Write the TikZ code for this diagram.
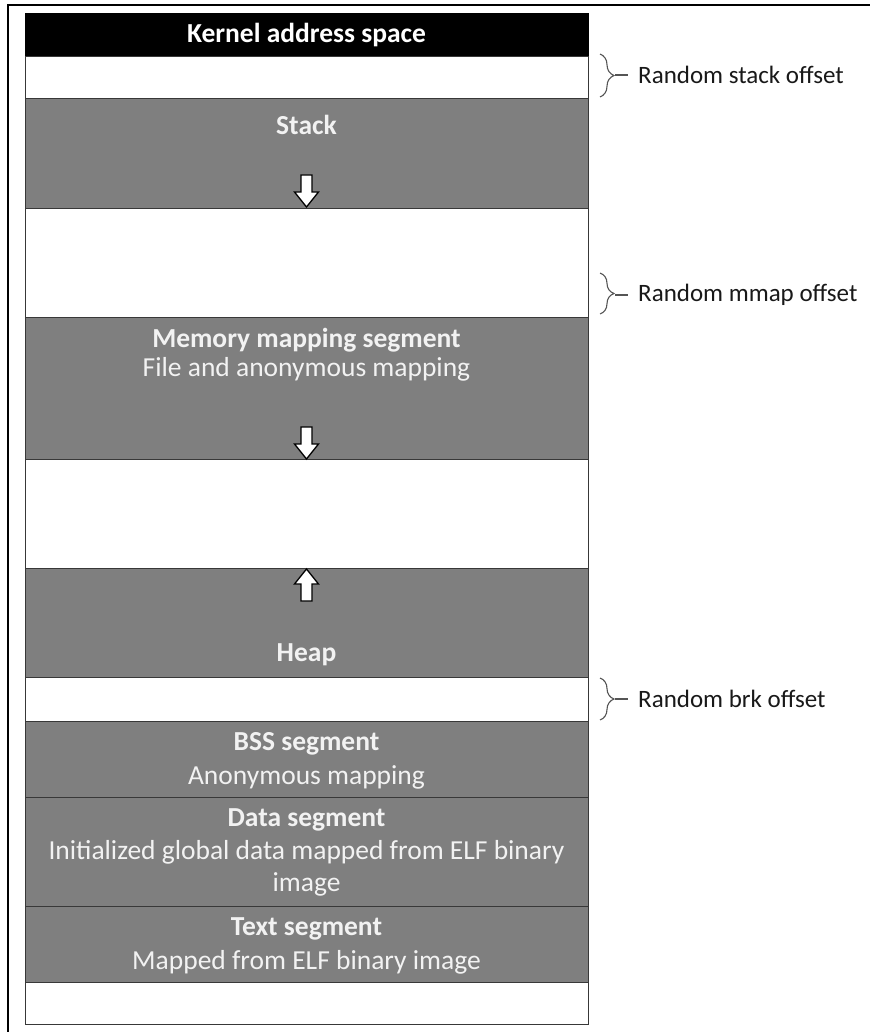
\documentclass[tikz,border=0pt]{standalone}
\usepackage{fontspec}
\setmainfont{Carlito}
\usetikzlibrary{decorations.pathreplacing}
\definecolor{seggray}{HTML}{7F7F7F}
\definecolor{edgegray}{HTML}{383838}
\definecolor{bracegray}{HTML}{555555}
\begin{document}
\begin{tikzpicture}[x=1pt,y=-1pt,
  box/.style={draw=edgegray, line width=1.3pt, minimum width=563pt, anchor=north west, inner sep=0pt},
  seg/.style={box, fill=seggray},
  gap/.style={box, fill=white},
  kern/.style={box, fill=black, draw=black},
  lbl/.style={text=white!95!black, font=\fontsize{27.5}{32}\selectfont, inner sep=0pt},
  blbl/.style={lbl, font=\fontsize{27.5}{32}\selectfont\bfseries},
  rlbl/.style={text=black!90, font=\fontsize{25}{30}\selectfont, inner sep=0pt, anchor=west},
  bracestyle/.style={draw=bracegray, line width=1.1pt, decorate, decoration={brace, amplitude=14pt}},
  tiestyle/.style={draw=bracegray, line width=1.1pt},
  downarr/.pic={\filldraw[fill=white, draw=black, line width=1.3pt]
     (-5.5,-16) -- (5.5,-16) -- (5.5,1) -- (12,1) -- (0,16) -- (-12,1) -- (-5.5,1) -- cycle;},
  uparr/.pic={\filldraw[fill=white, draw=black, line width=1.3pt]
     (-5.5,16) -- (5.5,16) -- (5.5,-1) -- (12,-1) -- (0,-16) -- (-12,-1) -- (-5.5,-1) -- cycle;}
]
\useasboundingbox (0,0) rectangle (869,1032);
\fill[white] (0,0) rectangle (869,1032);
% outer frame
\draw[line width=2.6pt, line cap=rect] (8,1032) -- (8,5) -- (869,5);

% segments
\node[kern, minimum height=43pt]  (kernel) at (25,13)  {};
\node[gap,  minimum height=42pt]  (gapa)   at (25,56)  {};
\node[seg,  minimum height=110pt] (stack)  at (25,98)  {};
\node[gap,  minimum height=109pt] (gapb)   at (25,208) {};
\node[seg,  minimum height=142pt] (mmap)   at (25,317) {};
\node[gap,  minimum height=109pt] (gapc)   at (25,459) {};
\node[seg,  minimum height=109pt] (heap)   at (25,568) {};
\node[gap,  minimum height=44pt]  (gapd)   at (25,677) {};
\node[seg,  minimum height=76pt]  (bss)    at (25,721) {};
\node[seg,  minimum height=109pt] (data)   at (25,797) {};
\node[seg,  minimum height=76pt]  (text)   at (25,906) {};
\node[gap,  minimum height=42pt]  (gape)   at (25,982) {};

% labels
\node[blbl, text=white] (kernell) at (306.5,35) {Kernel address space};
\node[blbl] (stackl) at (306.5,125) {Stack};
\node[blbl] (mmapl)  at (306.5,340) {Memory mapping segment};
\node[lbl]  (mmaps)  at (306.5,369) {File and anonymous mapping};
\node[blbl] (heapl)  at (306.5,655) {Heap};
\node[blbl] (bssl)   at (306.5,744) {BSS segment};
\node[lbl]  (bsss)   at (306.5,777) {Anonymous mapping};
\node[blbl] (datal)  at (306.5,820) {Data segment};
\node[lbl]  (datas)  at (306.5,852) {Initialized global data mapped from ELF binary};
\node[lbl]  (datat)  at (306.5,884) {image};
\node[blbl] (textl)  at (306.5,929) {Text segment};
\node[lbl]  (texts)  at (306.5,962) {Mapped from ELF binary image};

% growth arrows
\pic at (306.5,191) {downarr};
\pic at (306.5,443) {downarr};
\pic at (306.5,585) {uparr};

% random offsets
\node[rlbl] (stackoff) at (638,75)  {Random stack offset};
\node[rlbl] (mmapoff)  at (638,295) {Random mmap offset};
\node[rlbl] (brkoff)   at (638,699) {Random brk offset};

\draw[bracestyle] (600,54) -- (600,97);
\draw[bracestyle] (600,273) -- (600,314);
\draw[bracestyle] (600,678) -- (600,720);
\coordinate (tipa) at (615,75);
\coordinate (tipb) at (615,295);
\coordinate (tipc) at (615,699);
\draw[tiestyle, shorten >=10pt] (tipa) -- (stackoff.west);
\draw[tiestyle, shorten >=10pt] (tipb) -- (mmapoff.west);
\draw[tiestyle, shorten >=10pt] (tipc) -- (brkoff.west);
\end{tikzpicture}
\end{document}
